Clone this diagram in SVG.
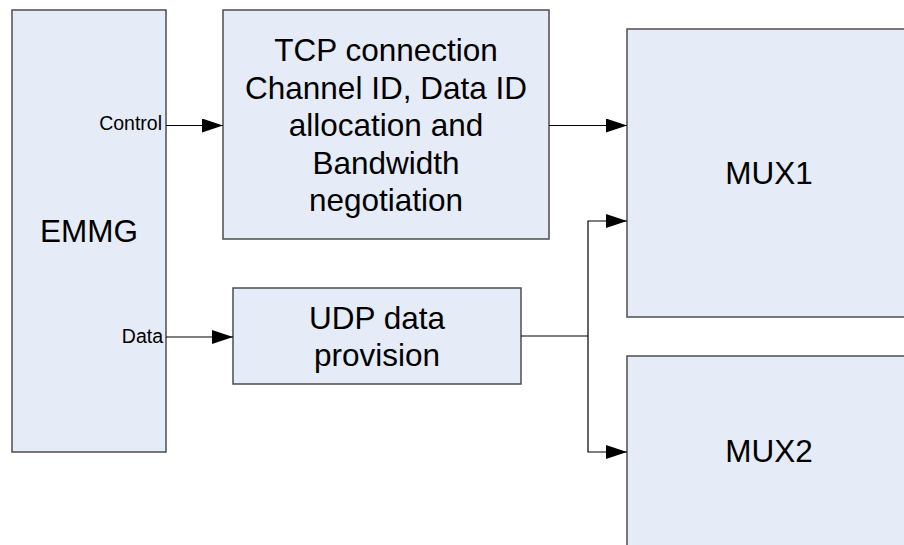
<svg xmlns="http://www.w3.org/2000/svg" width="904" height="545" viewBox="0 0 904 545">
  <style>
    .box { fill: #E5ECF7; stroke: #4d4d4d; stroke-width: 1.5; }
    .big { font-family: "Liberation Sans", Arial, sans-serif; font-size: 31.5px; fill: #000; text-anchor: middle; }
    .port { font-family: "Liberation Sans", Arial, sans-serif; font-size: 19.5px; fill: #000; text-anchor: end; }
    .wire { fill: none; stroke: #000; stroke-width: 1.2; }
  </style>
  <defs>
    <marker id="arrow" markerUnits="userSpaceOnUse" markerWidth="22" markerHeight="14" refX="21" refY="7" orient="auto">
      <path d="M0,0 L21,7 L0,14 z" fill="#000"/>
    </marker>
  </defs>
  <rect width="904" height="545" fill="#fff"/>

  <g id="emmg">
    <rect class="box" x="12" y="10" width="154" height="442"/>
    <text class="big" x="89" y="242">EMMG</text>
    <text class="port" x="162" y="130">Control</text>
    <text class="port" x="163" y="343">Data</text>
  </g>

  <g id="tcp">
    <rect class="box" x="223" y="10" width="326" height="229"/>
    <text class="big" x="386" y="61">TCP connection</text>
    <text class="big" x="386" y="98.5">Channel ID, Data ID</text>
    <text class="big" x="386" y="136">allocation and</text>
    <text class="big" x="386" y="173.5">Bandwidth</text>
    <text class="big" x="386" y="211">negotiation</text>
  </g>

  <g id="udp">
    <rect class="box" x="233" y="288" width="288" height="96"/>
    <text class="big" x="377" y="329">UDP data</text>
    <text class="big" x="377" y="366">provision</text>
  </g>

  <g id="mux1">
    <rect class="box" x="627" y="29" width="286" height="288"/>
    <text class="big" x="769" y="184">MUX1</text>
  </g>

  <g id="mux2">
    <rect class="box" x="627" y="356" width="286" height="200"/>
    <text class="big" x="769" y="462">MUX2</text>
  </g>

  <g id="connectors">
    <path class="wire" d="M166,125.5 H223" marker-end="url(#arrow)"/>
    <path class="wire" d="M549,125.5 H627" marker-end="url(#arrow)"/>
    <path class="wire" d="M166,337 H233" marker-end="url(#arrow)"/>
    <path class="wire" d="M521,336 H588"/>
    <path class="wire" d="M588,336 V221 H627" marker-end="url(#arrow)"/>
    <path class="wire" d="M588,336 V452 H627" marker-end="url(#arrow)"/>
  </g>
</svg>
